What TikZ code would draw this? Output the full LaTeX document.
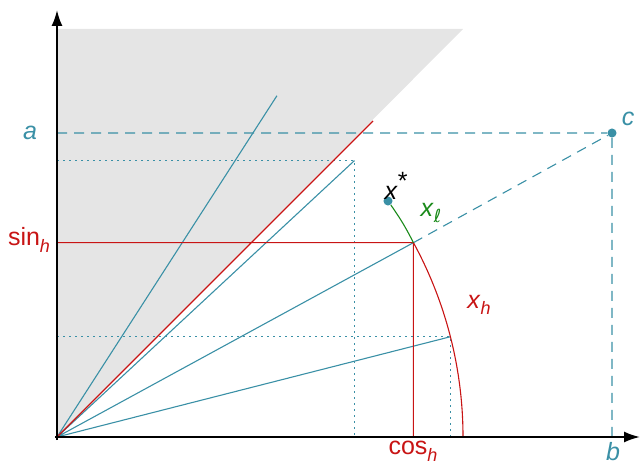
\documentclass[tikz,border=0pt]{standalone}
\usepackage{fontspec}
\setmainfont{Liberation Sans}
\newfontfamily\symfont{DejaVu Sans}
\usetikzlibrary{positioning,calc,arrows.meta}
\definecolor{Teal}{HTML}{3A90A6}
\definecolor{Crimson}{HTML}{C81414}
\definecolor{Leaf}{HTML}{1A8A1A}
\definecolor{Shade}{HTML}{E5E5E5}
\newcommand{\withsub}[2]{#1\raisebox{-0.5ex}{\small #2}}

\begin{document}
\begin{tikzpicture}[x=0.5pt,y=0.5pt,
  ray/.style={Teal,line width=0.55pt},
  guide/.style={Teal,line width=0.75pt,dash pattern=on 0.75pt off 2.25pt},
  proj/.style={Teal,line width=0.55pt,dash pattern=on 5pt off 3.5pt},
  axis/.style={line width=1pt,-{Latex[length=8pt,width=5.5pt]}},
  dot/.style={circle,fill=Teal,inner sep=1.6pt},
  every node/.style={font=\fontsize{12.5}{14.5}\selectfont}]
\useasboundingbox (-57,-29) rectangle (585,437);
\coordinate (o) at (0,0);
\coordinate (ytop) at (0,427);
\coordinate (xend) at (583,0);
\coordinate (p1) at (14.3:406);
\coordinate (p2) at (28.6:406);
\coordinate (p3) at (42.9:406);
\coordinate (p4) at (57.2:406);
\coordinate (q) at (316,316);
\coordinate (rim) at (406,0);
\fill[Shade] (o) -- (0,408) -- (406,408) -- cycle;
\draw[guide] (o |- p1) -- (p1) -- (p1 |- o) (o |- p3) -- (p3) -- (p3 |- o);
\node[dot] (c) at (555,304) {};
\node[dot] (xs) at (331,236) {};
\draw[proj] (o |- c) -- (c) -- (c |- o) (p2) -- (c);
\draw[ray] (o) -- (p1) (o) -- (p2) (o) -- (p3) (o) -- (p4);
\draw[Crimson,line width=0.55pt] (o) -- (q) (o |- p2) -- (p2) -- (p2 |- o);
\draw[Crimson,line width=0.55pt] (p2) arc[start angle=28.6,end angle=0,radius=406];
\draw[Leaf,line width=0.55pt] (xs) to[bend left=4] (p2);
\draw[axis] (0,-3) -- (ytop);
\draw[axis] (-2,0) -- (xend);
\node[Teal] (la) at (-27,304) {\textit{a}};
\node[Teal] (lb) at (556,-15) {\textit{b}};
\node[Teal] (lc) at (571,318) {\textit{c}};
\node[Crimson] (lsin) at (-28,197) {\withsub{sin}{\textit{h}}};
\node[Crimson] (lcos) at (356,-14) {\withsub{cos}{\textit{h}}};
\node (lxs) at (339,251) {\textit{x}\raisebox{0.7ex}{*}};
\node[Leaf] (lxl) at (374,224) {\withsub{\textit{x}}{\symfont\itshape ℓ}};
\node[Crimson] (lxh) at (422,132) {\withsub{\textit{x}}{\textit{h}}};
\end{tikzpicture}
\end{document}
